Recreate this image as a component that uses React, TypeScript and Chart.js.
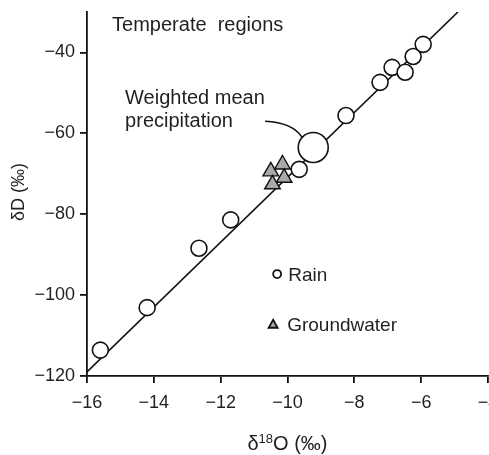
import React, { useEffect, useRef } from 'react';
import { Chart, registerables } from 'chart.js';

Chart.register(...registerables);

// ---- data ----
const xTickValues = [-16, -14, -12, -10, -8, -6, -4];
const yTickValues = [-120, -100, -80, -60, -40];

const rainX = [-15.6, -14.2, -12.65, -11.7, -9.65, -8.25, -7.23, -6.87, -6.48, -6.24, -5.94];
const rainY = [-113.6, -103.1, -88.4, -81.4, -68.9, -55.6, -47.4, -43.7, -44.9, -41.0, -38.0];

const meanX = [-9.23];
const meanY = [-63.5];

const gwX = [-10.5, -10.15, -10.1, -10.45];
const gwY = [-69.4, -67.7, -71.0, -72.6];

// meteoric water line
const lineX = [-16, -4.9];
const lineY = [-119, -30];

const FONT = "'Liberation Sans', Arial, sans-serif";
const INK = '#231f20';

const fmt = (v: number) => (v < 0 ? '\u2212' + Math.abs(v) : String(v));

const annotationPlugin = {
  id: 'annotations',
  afterDraw(chart: any) {
    const { ctx, scales } = chart;
    const xs = scales.x;
    const ys = scales.y;
    const px = (v: number) => xs.getPixelForValue(v);
    const py = (v: number) => ys.getPixelForValue(v);
    ctx.save();
    ctx.fillStyle = INK;
    ctx.textBaseline = 'alphabetic';
    ctx.textAlign = 'left';

    // text labels
    ctx.font = `20px ${FONT}`;
    ctx.fillText('Temperate  regions', px(-15.25), py(-34.8));
    ctx.fillText('Weighted mean', px(-14.86), py(-52.8));
    ctx.fillText('precipitation', px(-14.86), py(-58.5));

    // callout curve
    ctx.strokeStyle = '#111';
    ctx.lineWidth = 1.5;
    ctx.beginPath();
    ctx.moveTo(px(-10.67), py(-57.0));
    ctx.quadraticCurveTo(px(-9.85), py(-57.3), px(-9.56), py(-61.0));
    ctx.stroke();

    // legend
    ctx.font = `19px ${FONT}`;
    ctx.lineWidth = 1.8;
    ctx.beginPath();
    ctx.arc(px(-10.31), py(-94.8), 4, 0, Math.PI * 2);
    ctx.fillStyle = '#fff';
    ctx.fill();
    ctx.stroke();
    ctx.fillStyle = INK;
    ctx.fillText('Rain', px(-9.98), py(-96.5));

    const tx = px(-10.43);
    const ty = py(-107.2);
    ctx.beginPath();
    ctx.moveTo(tx, ty - 4.5);
    ctx.lineTo(tx + 4.5, ty + 3.5);
    ctx.lineTo(tx - 4.5, ty + 3.5);
    ctx.closePath();
    ctx.fillStyle = '#a9a9a9';
    ctx.fill();
    ctx.stroke();
    ctx.fillStyle = INK;
    ctx.fillText('Groundwater', px(-10.01), py(-108.9));

    // x axis title: δ18O (‰)
    const cx = (xs.left + xs.right) / 2;
    const by = chart.height - 5;
    ctx.font = `20px ${FONT}`;
    const wD = ctx.measureText('\u03b4').width;
    const wO = ctx.measureText('O (\u2030)').width;
    ctx.font = `13px ${FONT}`;
    const wS = ctx.measureText('18').width;
    const total = wD + wS + wO;
    let sx = cx - total / 2;
    ctx.font = `20px ${FONT}`;
    ctx.fillText('\u03b4', sx, by);
    sx += wD;
    ctx.font = `13px ${FONT}`;
    ctx.fillText('18', sx, by - 7);
    sx += wS;
    ctx.font = `20px ${FONT}`;
    ctx.fillText('O (\u2030)', sx, by);

    // y axis title
    ctx.translate(24, (ys.top + ys.bottom) / 2 - 2);
    ctx.rotate(-Math.PI / 2);
    ctx.textAlign = 'center';
    ctx.font = `18px ${FONT}`;
    ctx.fillText('\u03b4D (\u2030)', 0, 0);
    ctx.restore();
  },
};

export default function App() {
  const ref = useRef<HTMLCanvasElement>(null);

  useEffect(() => {
    if (!ref.current) return;
    const chart = new Chart(ref.current, {
      type: 'scatter',
      data: {
        datasets: [
          {
            label: 'Weighted mean',
            data: meanX.map((x, i) => ({ x, y: meanY[i] })),
            pointStyle: 'circle',
            pointRadius: 15,
            backgroundColor: '#fff',
            borderColor: '#111',
            borderWidth: 1.6,
            order: 0,
          },
          {
            label: 'Rain',
            data: rainX.map((x, i) => ({ x, y: rainY[i] })),
            pointStyle: 'circle',
            pointRadius: 8,
            backgroundColor: '#fff',
            borderColor: '#111',
            borderWidth: 1.6,
            order: 1,
          },
          {
            label: 'Groundwater',
            data: gwX.map((x, i) => ({ x, y: gwY[i] })),
            pointStyle: 'triangle',
            pointRadius: 9,
            backgroundColor: '#a9a9a9',
            borderColor: '#111',
            borderWidth: 1.4,
            order: 2,
          },
          {
            label: 'MWL',
            type: 'line',
            data: lineX.map((x, i) => ({ x, y: lineY[i] })),
            showLine: true,
            pointRadius: 0,
            borderColor: '#111',
            borderWidth: 1.6,
            fill: false,
            order: 3,
          } as any,
        ],
      },
      options: {
        animation: false,
        responsive: false,
        devicePixelRatio: 1,
        layout: { autoPadding: false, padding: { top: 12, right: 1, left: 0, bottom: 0 } },
        plugins: { legend: { display: false }, tooltip: { enabled: false } },
        scales: {
          x: {
            type: 'linear',
            min: -16,
            max: -4,
            afterBuildTicks: (s: any) => {
              s.ticks = xTickValues.map((v) => ({ value: v }));
            },
            afterFit: (s: any) => {
              s.height = 79;
              s.paddingLeft = 0;
              s.paddingRight = 0;
            },
            ticks: {
              callback: (v: any) => fmt(Number(v)),
              color: INK,
              font: { family: FONT, size: 18 },
              padding: 9,
              maxRotation: 0,
              autoSkip: false,
            },
            grid: {
              display: true,
              drawOnChartArea: false,
              drawTicks: true,
              tickLength: 7,
              color: '#111',
              lineWidth: 1.8,
            },
            border: { display: true, color: '#111', width: 1.8 },
          },
          y: {
            type: 'linear',
            min: -120,
            max: -30,
            afterBuildTicks: (s: any) => {
              s.ticks = yTickValues.map((v) => ({ value: v }));
            },
            afterFit: (s: any) => {
              s.width = 87;
              s.paddingTop = 0;
              s.paddingBottom = 0;
            },
            ticks: {
              callback: (v: any) => fmt(Number(v)),
              color: INK,
              font: { family: FONT, size: 18 },
              padding: 5,
              autoSkip: false,
            },
            grid: {
              display: true,
              drawOnChartArea: false,
              drawTicks: true,
              tickLength: 7,
              color: '#111',
              lineWidth: 1.8,
            },
            border: { display: true, color: '#111', width: 1.8 },
          },
        },
      },
      plugins: [annotationPlugin],
    });
    return () => chart.destroy();
  }, []);

  return (
    <div style={{ position: 'absolute', left: 0, top: 0, width: 489, height: 455, background: '#fff' }}>
      <canvas ref={ref} width={489} height={455} style={{ display: 'block' }} />
    </div>
  );
}
